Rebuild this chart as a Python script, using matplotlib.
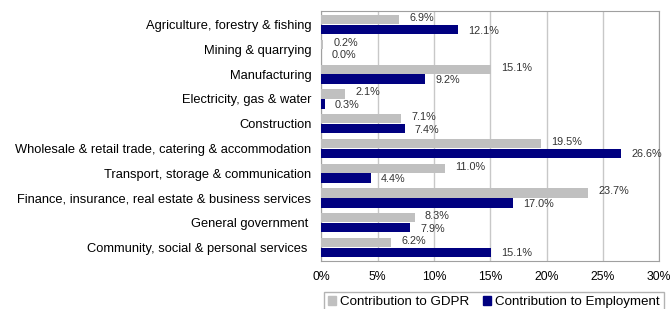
import numpy as np
import matplotlib
matplotlib.use("Agg")
import matplotlib.pyplot as plt
from matplotlib.patches import Patch

plt.rcParams['font.family'] = ['Liberation Sans', 'DejaVu Sans']

sectors = [
    "Agriculture, forestry & fishing",
    "Mining & quarrying",
    "Manufacturing",
    "Electricity, gas & water",
    "Construction",
    "Wholesale & retail trade, catering & accommodation",
    "Transport, storage & communication",
    "Finance, insurance, real estate & business services",
    "General government ",
    "Community, social & personal services ",
]
gdpr = [6.9, 0.2, 15.1, 2.1, 7.1, 19.5, 11.0, 23.7, 8.3, 6.2]
employment = [12.1, 0.0, 9.2, 0.3, 7.4, 26.6, 4.4, 17.0, 7.9, 15.1]
xticks = [0, 5, 10, 15, 20, 25, 30]

GREY = "#c0c0c0"
NAVY = "#000080"

fig = plt.figure(figsize=(6.72, 3.09), dpi=100)
ax = fig.add_axes([0.478, 0.155, 0.503, 0.809])

y = np.arange(len(sectors))
h = 0.38
ax.barh(y - h / 2 - 0.01, gdpr, height=h, color=GREY, zorder=3)
ax.barh(y + h / 2 + 0.01, employment, height=h, color=NAVY, zorder=3)

for yi, v in zip(y, gdpr):
    ax.text(v + 0.9, yi - h / 2 - 0.08, f"{v:.1f}%", fontsize=7.8,
            color="#333333", va="center", ha="left")
for yi, v in zip(y, employment):
    ax.text(v + 0.9, yi + h / 2 + 0.05, f"{v:.1f}%", fontsize=7.8,
            color="#333333", va="center", ha="left")

ax.set_ylim(len(sectors) - 0.45, -0.55)
ax.set_xlim(0, 30)
ax.set_xticks(xticks)
ax.set_xticklabels([f"{t}%" for t in xticks], fontsize=8.8)
ax.set_yticks(y)
ax.set_yticklabels(sectors, fontsize=9.3)
ax.tick_params(axis="both", length=0, pad=7)
ax.grid(axis="x", color="#c8c8c8", lw=1, zorder=0)
for s in ax.spines.values():
    s.set_color("#a0a0a0")

handles = [Patch(color=GREY, label="Contribution to GDPR"),
           Patch(color=NAVY, label="Contribution to Employment")]
leg = fig.legend(handles=handles, loc="lower center", ncol=2,
                 bbox_to_anchor=(0.735, -0.01), fontsize=9.6,
                 frameon=True, fancybox=False, handlelength=0.6,
                 handleheight=0.6, handletextpad=0.3, columnspacing=1.0,
                 borderpad=0.3, borderaxespad=0.0)
leg.get_frame().set_edgecolor("#a0a0a0")

fig.savefig("out.png", dpi=100)
